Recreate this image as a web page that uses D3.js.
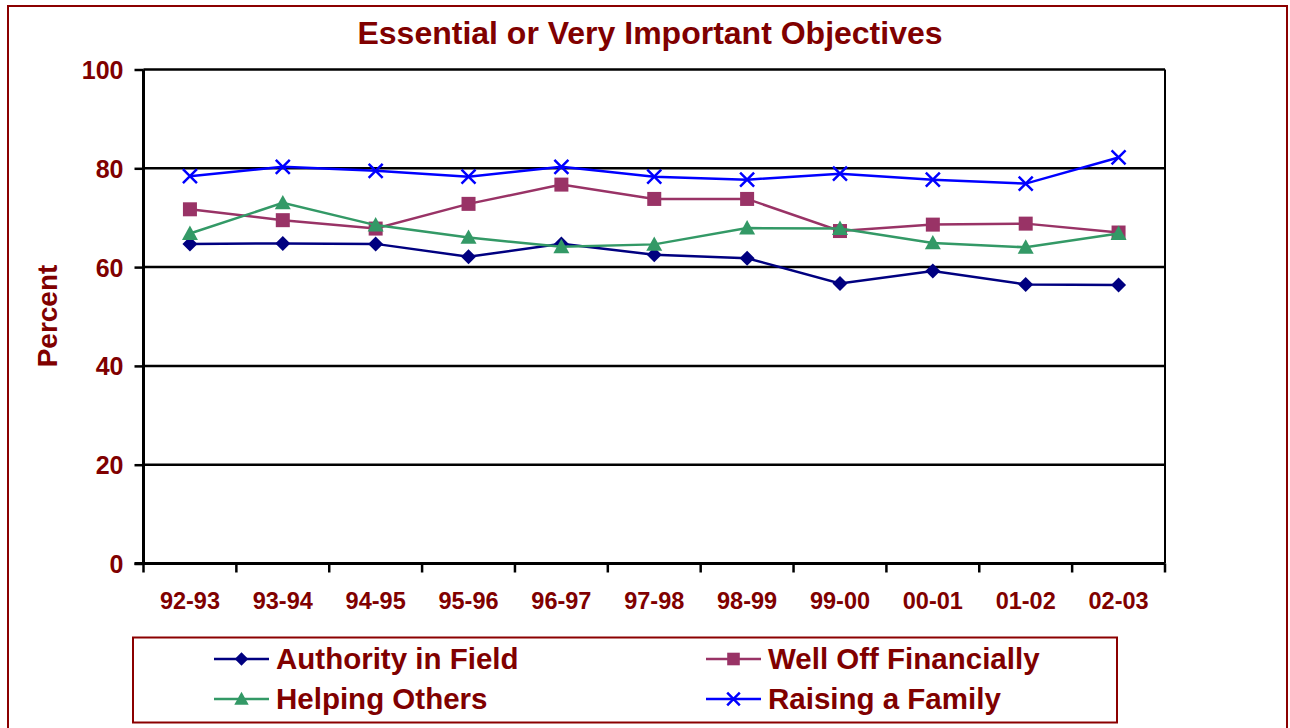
<!DOCTYPE html>
<html>
<head>
<meta charset="utf-8">
<script src="https://cdn.jsdelivr.net/npm/d3@7"></script>
<style>
  body { margin: 0; background: #fff; }
  text { font-family: "Liberation Sans", Arial, sans-serif; font-weight: bold; fill: #800000; }
</style>
</head>
<body>
<div id="chart"></div>
<script>
const years = ["92-93", "93-94", "94-95", "95-96", "96-97", "97-98", "98-99", "99-00", "00-01", "01-02", "02-03"];
const authority = [64.7, 64.8, 64.7, 62.1, 64.7, 62.5, 61.8, 56.7, 59.2, 56.5, 56.4];
const wellOff = [71.7, 69.5, 67.8, 72.8, 76.7, 73.8, 73.8, 67.3, 68.6, 68.8, 67.0];
const helping = [66.8, 73.0, 68.5, 66.0, 64.1, 64.6, 67.9, 67.8, 64.9, 64.0, 66.8];
const raising = [78.4, 80.3, 79.5, 78.3, 80.3, 78.3, 77.7, 78.9, 77.7, 76.9, 82.2];
const yTicks = [0, 20, 40, 60, 80, 100];

const series = [
  { name: "Authority in Field", values: authority, color: "#000080", symbol: "diamond" },
  { name: "Well Off Financially", values: wellOff, color: "#993366", symbol: "square" },
  { name: "Helping Others", values: helping, color: "#339966", symbol: "triangle" },
  { name: "Raising a Family", values: raising, color: "#0000FF", symbol: "cross" }
];

const width = 1290, height = 728;
const margin = { top: 69.5, left: 143.5, right: 125, bottom: 164.5 };
const plotW = width - margin.left - margin.right;
const plotH = height - margin.top - margin.bottom;
const darkRed = "#800000";

const svg = d3.select("#chart").append("svg")
  .attr("width", width)
  .attr("height", height);

// outer frame
svg.append("rect")
  .attr("x", 8).attr("y", 6)
  .attr("width", 1279).attr("height", 760)
  .attr("fill", "none")
  .attr("stroke", "#8B0000")
  .attr("stroke-width", 2);

svg.append("text")
  .attr("x", 650).attr("y", 44)
  .attr("text-anchor", "middle")
  .style("font-size", "32px")
  .text("Essential or Very Important Objectives");

const chart = svg.append("g")
  .attr("transform", `translate(${margin.left},${margin.top})`);

const x = d3.scaleBand().domain(years).range([0, plotW]);
const y = d3.scaleLinear().domain([0, 100]).range([plotH, 0]);

// gridlines
chart.append("g")
  .selectAll("line")
  .data(yTicks.filter(d => d > 0))
  .enter().append("line")
  .attr("x1", 0).attr("x2", plotW)
  .attr("y1", d => y(d)).attr("y2", d => y(d))
  .attr("stroke", "#000")
  .attr("stroke-width", 2.5);

// right border of plot
chart.append("line")
  .attr("x1", plotW).attr("x2", plotW)
  .attr("y1", 0).attr("y2", plotH)
  .attr("stroke", "#000").attr("stroke-width", 2);

// y axis
const yAxis = d3.axisLeft(y).tickValues(yTicks).tickSize(9).tickPadding(11);
const yG = chart.append("g").call(yAxis);
yG.select(".domain").attr("stroke", "#000").attr("stroke-width", 3).attr("d", `M0,${plotH}V0`);
yG.selectAll(".tick line").attr("stroke", "#000").attr("stroke-width", 2.5);
yG.selectAll(".tick text")
  .style("font-size", "25px")
  .style("font-family", "'Liberation Sans', Arial, sans-serif")
  .style("font-weight", "bold")
  .attr("fill", darkRed)
  .attr("dy", "0.36em");

// x axis line
chart.append("line")
  .attr("x1", -9).attr("x2", plotW)
  .attr("y1", plotH).attr("y2", plotH)
  .attr("stroke", "#000").attr("stroke-width", 3);

// x tick marks at band edges
const edges = years.map(d => x(d)).concat([plotW]);
chart.append("g")
  .selectAll("line")
  .data(edges)
  .enter().append("line")
  .attr("x1", d => d).attr("x2", d => d)
  .attr("y1", plotH).attr("y2", plotH + 9)
  .attr("stroke", "#000").attr("stroke-width", 2.5);

chart.append("g")
  .selectAll("text")
  .data(years)
  .enter().append("text")
  .attr("x", d => x(d) + x.bandwidth() / 2)
  .attr("y", plotH + 45)
  .attr("text-anchor", "middle")
  .style("font-size", "23.5px")
  .text(d => d);

// y axis title
svg.append("text")
  .attr("transform", `translate(57,316) rotate(-90)`)
  .attr("text-anchor", "middle")
  .style("font-size", "28px")
  .text("Percent");

function drawMarker(g, type, color, size) {
  if (type === "cross") {
    const r = 7 * size;
    g.append("path")
      .attr("d", `M${-r},${-r}L${r},${r}M${-r},${r}L${r},${-r}`)
      .attr("stroke", color).attr("stroke-width", 2.5).attr("fill", "none");
  } else if (type === "diamond") {
    const r = 7.5 * size;
    g.append("path")
      .attr("d", `M0,${-r}L${r},0L0,${r}L${-r},0Z`)
      .attr("fill", color);
  } else if (type === "square") {
    const r = 7 * size;
    g.append("rect")
      .attr("x", -r).attr("y", -r)
      .attr("width", 2 * r).attr("height", 2 * r)
      .attr("fill", color);
  } else {
    const r = 8 * size;
    g.append("path")
      .attr("d", `M0,${-r}L${r},${r * 0.8}L${-r},${r * 0.8}Z`)
      .attr("fill", color);
  }
}

const line = d3.line()
  .x((d, i) => x(years[i]) + x.bandwidth() / 2)
  .y(d => y(d));

series.forEach(s => {
  chart.append("path")
    .datum(s.values)
    .attr("d", line)
    .attr("fill", "none")
    .attr("stroke", s.color)
    .attr("stroke-width", 2.5);
  s.values.forEach((v, i) => {
    const g = chart.append("g")
      .attr("transform", `translate(${x(years[i]) + x.bandwidth() / 2},${y(v)})`);
    drawMarker(g, s.symbol, s.color, 1);
  });
});

// legend
svg.append("rect")
  .attr("x", 133).attr("y", 637.5)
  .attr("width", 984).attr("height", 85)
  .attr("fill", "#fff")
  .attr("stroke", "#8B0000")
  .attr("stroke-width", 2);

const legendPos = [
  { x: 214, y: 659 }, { x: 706, y: 659 },
  { x: 214, y: 699 }, { x: 706, y: 699 }
];
series.forEach((s, i) => {
  const p = legendPos[i];
  const g = svg.append("g").attr("transform", `translate(${p.x},${p.y})`);
  g.append("line")
    .attr("x1", 0).attr("x2", 55)
    .attr("stroke", s.color).attr("stroke-width", 2.5);
  const m = g.append("g").attr("transform", "translate(27.5,0)");
  drawMarker(m, s.symbol, s.color, 0.9);
  g.append("text")
    .attr("x", 62)
    .attr("y", 10)
    .style("font-size", "29.5px")
    .text(s.name);
});
</script>
</body>
</html>
